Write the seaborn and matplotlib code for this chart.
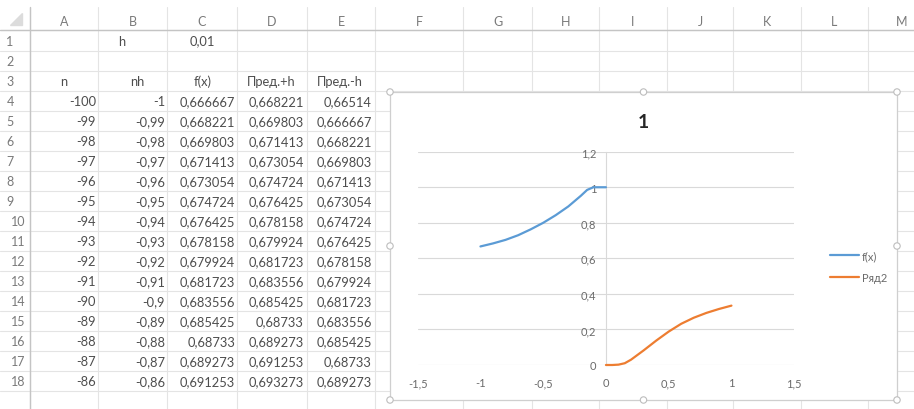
import matplotlib
matplotlib.use("Agg")
from matplotlib import pyplot as plt
from matplotlib.patches import Rectangle, Circle, Polygon
import seaborn as sns

# ---- sheet contents ----
col_letters = ['A', 'B', 'C', 'D', 'E', 'F', 'G', 'H', 'I', 'J', 'K', 'L', 'M']
header_row = ['n', 'nh', 'f(x)', 'Пред.+h', 'Пред.-h']
h_label = 'h'
h_value = 0.01
n_vals = [-100, -99, -98, -97, -96, -95, -94, -93, -92, -91, -90, -89, -88, -87, -86]
nh_vals = [-1, -0.99, -0.98, -0.97, -0.96, -0.95, -0.94, -0.93, -0.92, -0.91,
           -0.9, -0.89, -0.88, -0.87, -0.86]
fx_vals = [0.666667, 0.668221, 0.669803, 0.671413, 0.673054, 0.674724, 0.676425,
           0.678158, 0.679924, 0.681723, 0.683556, 0.685425, 0.68733, 0.689273, 0.691253]
plus_h = [0.668221, 0.669803, 0.671413, 0.673054, 0.674724, 0.676425, 0.678158,
          0.679924, 0.681723, 0.683556, 0.685425, 0.68733, 0.689273, 0.691253, 0.693273]
minus_h = [0.66514, 0.666667, 0.668221, 0.669803, 0.671413, 0.673054, 0.674724,
           0.676425, 0.678158, 0.679924, 0.681723, 0.683556, 0.685425, 0.68733, 0.689273]

# ---- chart series ----
x_fx = [-1.0, -0.9, -0.8, -0.7, -0.6, -0.5, -0.4, -0.3, -0.2, -0.15, -0.1, -0.05, 0.0]
y_fx = [0.667, 0.684, 0.704, 0.73, 0.763, 0.80, 0.843, 0.892, 0.952, 0.985, 1.0, 1.0, 1.0]
x_r2 = [0.0, 0.05, 0.1, 0.15, 0.2, 0.3, 0.4, 0.5, 0.6, 0.7, 0.8, 0.9, 1.0]
y_r2 = [0.0, 0.0, 0.002, 0.01, 0.03, 0.082, 0.137, 0.188, 0.232, 0.266, 0.293, 0.315, 0.334]
x_ticks = [-1.5, -1, -0.5, 0, 0.5, 1, 1.5]
y_ticks = [0, 0.2, 0.4, 0.6, 0.8, 1, 1.2]


def xl(v):
    # excel "general" format with decimal comma
    return f"{v:g}".replace('.', ',')


sns.set_style("white")
plt.rcParams['font.family'] = ['Lato', 'DejaVu Sans']

W, H = 914, 410
fig = plt.figure(figsize=(W / 100, H / 100), dpi=100)

# background: the worksheet, drawn in pixel coords
bg = fig.add_axes([0, 0, 1, 1])
bg.set_xlim(0, W)
bg.set_ylim(H, 0)
bg.axis('off')

col_edges = [30, 98, 167, 237, 307, 375, 463, 532, 599, 667, 733, 801, 868, 935]
row_edges = [31, 52] + [72 + 20 * k for k in range(18)]
grid_c = '#e4e4e4'
for x in col_edges:
    bg.plot([x, x], [8, H], color=grid_c, lw=0.8, zorder=1)
for y in row_edges:
    bg.plot([0, W], [y, y], color=grid_c, lw=0.8, zorder=1)
bg.plot([0, W], [31, 31], color='#c4c4c4', lw=1.0, zorder=2)
bg.plot([30, 30], [8, H], color='#c4c4c4', lw=1.0, zorder=2)
bg.add_patch(Polygon([[22, 14], [22, 26], [10, 26]], closed=True, color='#dcdcdc', zorder=2))

txt_c = '#4d4d4d'
hdr_c = '#7a7a7a'
for i, letter in enumerate(col_letters):
    cx = (col_edges[i] + col_edges[i + 1]) / 2
    bg.text(cx, 21.5, letter, ha='center', va='center', fontsize=9, color=hdr_c)


def row_y(r):
    return (row_edges[r - 1] + row_edges[r]) / 2


for r in range(1, 19):
    rx = 10 if r < 10 else 18
    bg.text(rx, row_y(r), str(r), ha='center', va='center', fontsize=9, color=hdr_c)

bg.text(122, row_y(1), h_label, ha='center', va='center', fontsize=9.3, color=txt_c)
bg.text(202, row_y(1), xl(h_value), ha='center', va='center', fontsize=9.3, color=txt_c)
hdr_x = [64, 137, 203, 271, 340]
for x, t in zip(hdr_x, header_row):
    bg.text(x, row_y(3), t, ha='center', va='center', fontsize=9.3, color=txt_c)

rights = [96, 165, 235, 304, 372]
for k in range(len(n_vals)):
    y = row_y(4 + k)
    vals = [n_vals[k], nh_vals[k], fx_vals[k], plus_h[k], minus_h[k]]
    for x, v in zip(rights, vals):
        bg.text(x, y, xl(v), ha='right', va='center', fontsize=9.3, color=txt_c)

# chart frame with selection handles
cl, ct, cr, cb = 390, 93, 897, 401
bg.add_patch(Rectangle((cl, ct), cr - cl, cb - ct, facecolor='white',
                       edgecolor='#cfcfcf', lw=0.9, zorder=5))
for hx, hy in [(cl, ct), ((cl + cr) / 2, ct), (cr, ct), (cl, (ct + cb) / 2),
               (cr, (ct + cb) / 2), (cl, cb), ((cl + cr) / 2, cb), (cr, cb)]:
    bg.add_patch(Circle((hx, hy), 3.2, facecolor='white', edgecolor='#bdbdbd',
                        lw=0.8, zorder=6))
bg.text(643, 123, '1', ha='center', va='center', fontsize=14, fontweight='bold',
        color='#262626', zorder=7)

# the chart itself
px0, px1 = 417.7, 794.2
py0, py1 = 366, 152.7
ax = fig.add_axes([px0 / W, (H - py0) / H, (px1 - px0) / W, (py0 - py1) / H])
ax.set_facecolor('none')

blue, orange = '#5b9bd5', '#ed7d31'
sns.lineplot(x=x_fx, y=y_fx, ax=ax, color=blue, lw=1.6, label='f(x)', clip_on=False, zorder=4)
sns.lineplot(x=x_r2, y=y_r2, ax=ax, color=orange, lw=1.6, label='Ряд2', clip_on=False, zorder=4)

ax.set_xlim(-1.5, 1.5)
ax.set_ylim(0, 1.2)
ax.set_xticks(x_ticks)
ax.set_xticklabels([xl(v) for v in x_ticks])
ax.set_yticks(y_ticks)
ax.set_yticklabels([xl(v) for v in y_ticks])
ax.grid(axis='y', color='#d9d9d9', lw=0.8)
ax.grid(axis='x', visible=False)
for s in ['top', 'right', 'bottom']:
    ax.spines[s].set_visible(False)
ax.spines['left'].set_position(('data', 0))
ax.spines['left'].set_color('#d9d9d9')
ax.spines['left'].set_linewidth(0.8)
ax.tick_params(axis='both', length=0, labelsize=8, labelcolor='#6a6a6a')
ax.tick_params(axis='y', pad=7)
ax.tick_params(axis='x', pad=9)
ax.set_xlabel('')
ax.set_ylabel('')

ax.legend(loc='center left', bbox_to_anchor=(830 / W, 1 - 267.5 / H),
          bbox_transform=fig.transFigure, frameon=False, fontsize=8,
          handlelength=2.6, handletextpad=0.25, labelspacing=1.0,
          borderpad=0, borderaxespad=0, labelcolor='#6a6a6a')

fig.savefig('out.png', dpi=100)
